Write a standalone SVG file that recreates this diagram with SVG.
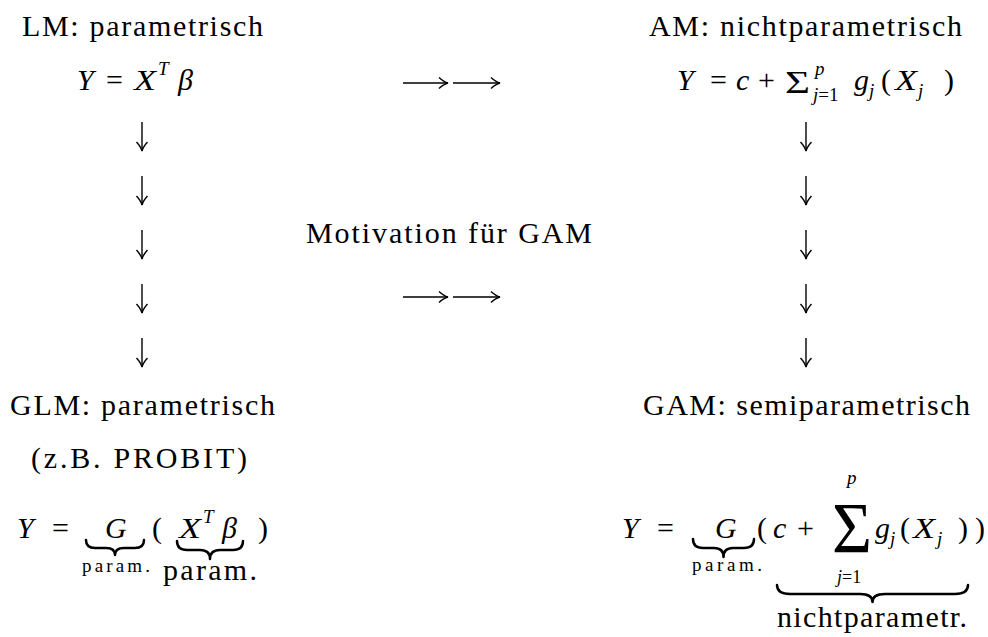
<svg xmlns="http://www.w3.org/2000/svg" width="988" height="637" viewBox="0 0 988 637">
<style>
text{font-family:"Liberation Serif","Times New Roman",serif;font-size:30px;fill:#000}
.i{font-style:italic}
.s{font-size:19px}
.br{fill:none;stroke:#000;stroke-width:2.5;stroke-linejoin:round;stroke-linecap:round}
.ar{fill:none;stroke:#000;stroke-width:1.4}
</style>
<defs>
<marker id="ah" markerWidth="14" markerHeight="14" refX="10" refY="7" orient="auto" markerUnits="userSpaceOnUse">
<path d="M1,1.5 Q6,6 10,7 Q6,8 1,12.5" fill="none" stroke="#000" stroke-width="1.4"/>
</marker>
</defs>
<rect width="988" height="637" fill="#fff"/>

<g id="LM">
<text x="22" y="36" textLength="241" lengthAdjust="spacing">LM: parametrisch</text>
<text x="77" y="90" class="i">Y</text>
<text x="106" y="90">=</text>
<text x="134" y="90" class="i" textLength="22" lengthAdjust="spacingAndGlyphs">X</text>
<text x="158" y="75" class="i s">T</text>
<text x="178" y="90" class="i">β</text>
</g>

<g id="AM">
<text x="649" y="36" textLength="313" lengthAdjust="spacing">AM: nichtparametrisch</text>
<text x="677" y="90" class="i">Y</text>
<text x="710" y="90">=</text>
<text x="736" y="90" class="i">c</text>
<text x="758" y="90">+</text>
<text x="785" y="93" style="font-size:32px" textLength="25" lengthAdjust="spacingAndGlyphs">Σ</text>
<text x="815" y="75" class="i s">p</text>
<text x="813" y="101" class="s"><tspan class="i">j</tspan>=1</text>
<text x="854" y="90" class="i">g</text>
<text x="869" y="97" class="i s">j</text>
<text x="881" y="90">(</text>
<text x="895" y="90" class="i" textLength="22" lengthAdjust="spacingAndGlyphs">X</text>
<text x="918" y="97" class="i s">j</text>
<text x="944" y="90">)</text>
</g>

<g id="Motivation">
<text x="306" y="243" textLength="286" lengthAdjust="spacing">Motivation für GAM</text>
</g>

<g id="GLM">
<text x="10" y="415" textLength="265" lengthAdjust="spacing">GLM: parametrisch</text>
<text x="31" y="468" textLength="216" lengthAdjust="spacing">(z.B. PROBIT)</text>
<text x="17" y="538" class="i">Y</text>
<text x="52" y="538">=</text>
<text x="105" y="538" class="i">G</text>
<text x="152" y="538">(</text>
<text x="179" y="538" class="i" textLength="22" lengthAdjust="spacingAndGlyphs">X</text>
<text x="203" y="523" class="i s">T</text>
<text x="222" y="538" class="i">β</text>
<text x="258" y="538">)</text>
<path class="br" d="M86,540 Q86,548 95,548 L106,548 Q115,548 115,555 Q115,548 124,548 L135,548 Q144,548 144,540"/>
<path class="br" d="M177,541 Q177,550 187,550 L200,550 Q210,550 210,559 Q210,550 220,550 L233,550 Q243,550 243,541"/>
<text x="82" y="572" class="s" textLength="68" lengthAdjust="spacing">param.</text>
<text x="163" y="580" textLength="94" lengthAdjust="spacing">param.</text>
</g>

<g id="GAM">
<text x="643" y="415" textLength="327" lengthAdjust="spacing">GAM: semiparametrisch</text>
<text x="622" y="538" class="i">Y</text>
<text x="657" y="538">=</text>
<text x="715" y="538" class="i">G</text>
<path class="br" d="M693,539 Q693,548 703,548 L714,548 Q723.5,548 723.5,557 Q723.5,548 733,548 L744,548 Q754,548 754,539"/>
<text x="692" y="571" class="s" textLength="70" lengthAdjust="spacing">param.</text>
<text x="757" y="538">(</text>
<text x="773" y="538" class="i">c</text>
<text x="797" y="538">+</text>
<text x="832" y="552" style="font-size:72px" textLength="40" lengthAdjust="spacingAndGlyphs">Σ</text>
<text x="847" y="484" class="i s">p</text>
<text x="837" y="583" style="font-size:18px"><tspan class="i">j</tspan>=1</text>
<text x="875" y="538" class="i">g</text>
<text x="890" y="545" class="i s">j</text>
<text x="900" y="538">(</text>
<text x="913" y="538" class="i" textLength="22" lengthAdjust="spacingAndGlyphs">X</text>
<text x="937" y="545" class="i s">j</text>
<text x="958" y="538">)</text>
<text x="975" y="538">)</text>
<path class="br" d="M777,585 Q777,594 790,594 L860,594 Q872.5,594 872.5,602 Q872.5,594 885,594 L955,594 Q968,594 968,585"/>
<text x="777" y="627" textLength="190" lengthAdjust="spacing">nichtparametr.</text>
</g>

<g id="connectors">
<path class="ar" marker-end="url(#ah)" d="M142,122 V151"/>
<path class="ar" marker-end="url(#ah)" d="M142,176 V205"/>
<path class="ar" marker-end="url(#ah)" d="M142,230 V259"/>
<path class="ar" marker-end="url(#ah)" d="M142,284 V313"/>
<path class="ar" marker-end="url(#ah)" d="M142,338 V367"/>
<path class="ar" marker-end="url(#ah)" d="M806,122 V151"/>
<path class="ar" marker-end="url(#ah)" d="M806,176 V205"/>
<path class="ar" marker-end="url(#ah)" d="M806,230 V259"/>
<path class="ar" marker-end="url(#ah)" d="M806,284 V313"/>
<path class="ar" marker-end="url(#ah)" d="M806,338 V367"/>
<path class="ar" marker-end="url(#ah)" d="M403,83 H448"/>
<path class="ar" marker-end="url(#ah)" d="M453,83 H500"/>
<path class="ar" marker-end="url(#ah)" d="M403,297 H448"/>
<path class="ar" marker-end="url(#ah)" d="M453,297 H500"/>
</g>
</svg>
